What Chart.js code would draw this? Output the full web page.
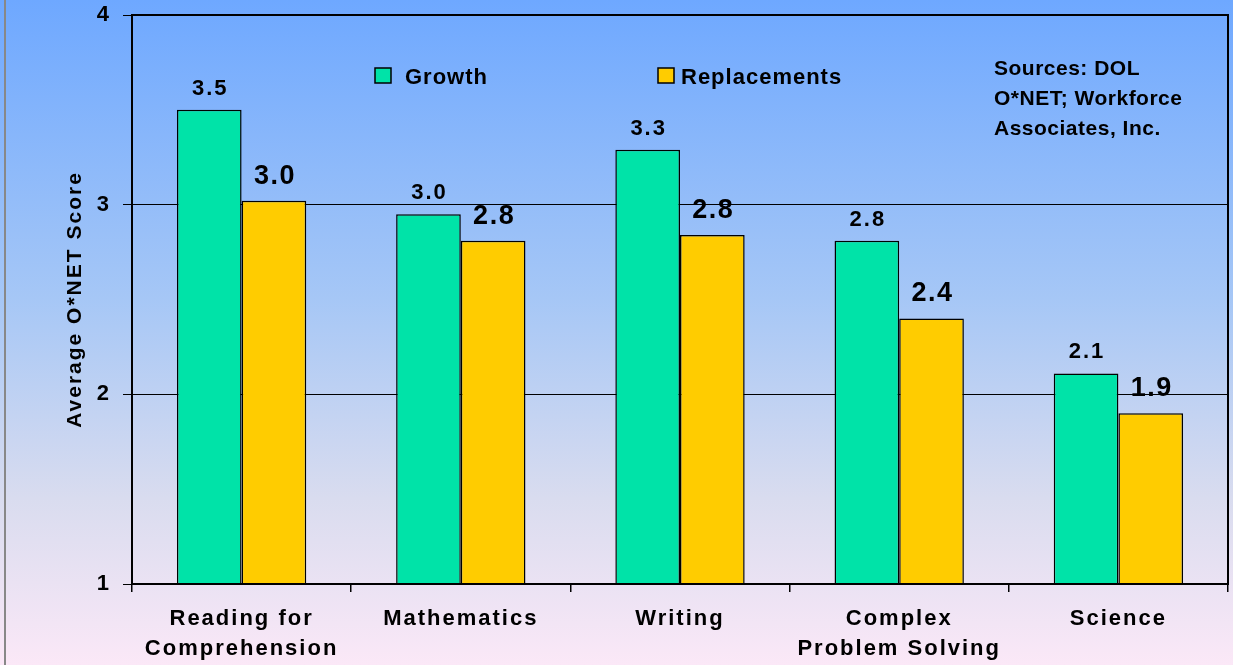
<!DOCTYPE html>
<html>
<head>
<meta charset="utf-8">
<script src="https://cdn.jsdelivr.net/npm/chart.js@4.4.1/dist/chart.umd.min.js"></script>
<style>
  html, body { margin: 0; padding: 0; background: #ffffff; }
  #wrap { width: 1233px; height: 665px; position: relative; }
</style>
</head>
<body>
<div id="wrap"><canvas id="c" width="1233" height="665"></canvas></div>
<script>
const categories = [['Reading for', 'Comprehension'], 'Mathematics', 'Writing', ['Complex', 'Problem Solving'], 'Science'];
const seriesNames = ['Growth', 'Replacements'];
const growth = [3.50, 2.95, 3.29, 2.81, 2.11];
const replacements = [3.02, 2.81, 2.84, 2.40, 1.90];
const yMin = 1;
const yMax = 4;
const yStep = 1;
const yTitle = 'Average O*NET Score';
const sourceLines = ['Sources: DOL', 'O*NET; Workforce', 'Associates, Inc.'];

const FONT = '"Liberation Sans", Arial, Helvetica, sans-serif';
const GREEN = '#00E3A8';
const GOLD = '#FFCC00';

function fmt(v) { return (Math.round(v * 10) / 10).toFixed(1); }

const bgPlugin = {
  id: 'bg',
  beforeDraw(chart) {
    const ctx = chart.ctx;
    const h = chart.height, w = chart.width;
    ctx.save();
    const g = ctx.createLinearGradient(0, 0, 0, h);
    g.addColorStop(0, '#6EA8FF');
    g.addColorStop(0.45, '#A6C7F6');
    g.addColorStop(0.75, '#D9DCEF');
    g.addColorStop(1, '#FBE8F7');
    ctx.fillStyle = g;
    ctx.fillRect(0, 0, w, h);
    ctx.strokeStyle = '#888888';
    ctx.lineWidth = 2;
    ctx.beginPath();
    ctx.moveTo(5, 0);
    ctx.lineTo(5, h);
    ctx.stroke();
    ctx.restore();
    ctx.letterSpacing = '2px';
  }
};

const framePlugin = {
  id: 'frame',
  afterDatasetsDraw(chart) {
    const ctx = chart.ctx;
    const a = chart.chartArea;
    ctx.save();
    ctx.strokeStyle = '#000';
    ctx.lineWidth = 2;
    ctx.strokeRect(a.left, a.top, a.right - a.left, a.bottom - a.top);
    ctx.restore();

    // value labels
    const styles = [
      { size: 22, ls: '2px', off: 15 },
      { size: 27, ls: '1.5px', off: 17 }
    ];
    chart.data.datasets.forEach((ds, di) => {
      const meta = chart.getDatasetMeta(di);
      const st = styles[di];
      meta.data.forEach((bar, i) => {
        ctx.save();
        ctx.font = 'bold ' + st.size + 'px ' + FONT;
        ctx.letterSpacing = st.ls;
        ctx.fillStyle = '#000';
        ctx.textAlign = 'center';
        ctx.textBaseline = 'alphabetic';
        ctx.fillText(fmt(ds.data[i]), bar.x + 1, bar.y - st.off);
        ctx.restore();
      });
    });

    // legend
    const legendX = [a.left + 243, a.left + 526];
    const colors = [GREEN, GOLD];
    seriesNames.forEach((name, i) => {
      ctx.save();
      ctx.fillStyle = colors[i];
      ctx.fillRect(legendX[i], 68, 16, 15);
      ctx.strokeStyle = '#000';
      ctx.lineWidth = 1.5;
      ctx.strokeRect(legendX[i], 68, 16, 15);
      ctx.font = 'bold 22px ' + FONT;
      ctx.letterSpacing = '1px';
      ctx.fillStyle = '#000';
      ctx.textAlign = 'left';
      ctx.textBaseline = 'alphabetic';
      ctx.fillText(name, legendX[i] + (i === 0 ? 30 : 23), 84);
      ctx.restore();
    });

    // sources note
    ctx.save();
    ctx.font = 'bold 21px ' + FONT;
    ctx.letterSpacing = '0.5px';
    ctx.fillStyle = '#000';
    ctx.textAlign = 'left';
    ctx.textBaseline = 'alphabetic';
    sourceLines.forEach((t, i) => ctx.fillText(t, a.left + 862, 75 + i * 30));
    ctx.restore();
  }
};

new Chart(document.getElementById('c'), {
  type: 'bar',
  data: {
    labels: categories,
    datasets: [
      { label: seriesNames[0], data: growth, backgroundColor: GREEN, borderColor: '#000', borderWidth: 1.5 },
      { label: seriesNames[1], data: replacements, backgroundColor: GOLD, borderColor: '#000', borderWidth: 1.5 }
    ]
  },
  options: {
    responsive: false,
    animation: false,
    devicePixelRatio: 1,
    layout: { padding: { left: 0, right: 5, top: 15, bottom: 0 } },
    datasets: { bar: { categoryPercentage: 0.59, barPercentage: 1.0 } },
    plugins: { legend: { display: false }, tooltip: { enabled: false } },
    scales: {
      x: {
        afterFit(scale) { scale.height = 81; scale.paddingLeft = 0; scale.paddingRight = 0; },
        grid: { display: true, offset: true, drawOnChartArea: false, drawTicks: true, tickLength: 8, color: '#000', lineWidth: 1.5 },
        border: { display: false },
        ticks: {
          color: '#000', autoSkip: false, maxRotation: 0, minRotation: 0, padding: 12,
          font: { family: FONT, size: 22, weight: 'bold', lineHeight: 1.36 }
        }
      },
      y: {
        min: yMin, max: yMax,
        afterFit(scale) { scale.width = 132; scale.paddingTop = 0; scale.paddingBottom = 0; },
        grid: { color: '#000', lineWidth: 1, tickLength: 9, drawTicks: true },
        border: { display: false },
        ticks: {
          stepSize: yStep, color: '#000', padding: 12,
          font: { family: FONT, size: 22, weight: 'bold' }
        },
        title: {
          display: true, text: yTitle, color: '#000',
          padding: { top: 63, bottom: 0 },
          font: { family: FONT, size: 21, weight: 'bold', lineHeight: 1.2 }
        }
      }
    }
  },
  plugins: [bgPlugin, framePlugin]
});
</script>
</body>
</html>
